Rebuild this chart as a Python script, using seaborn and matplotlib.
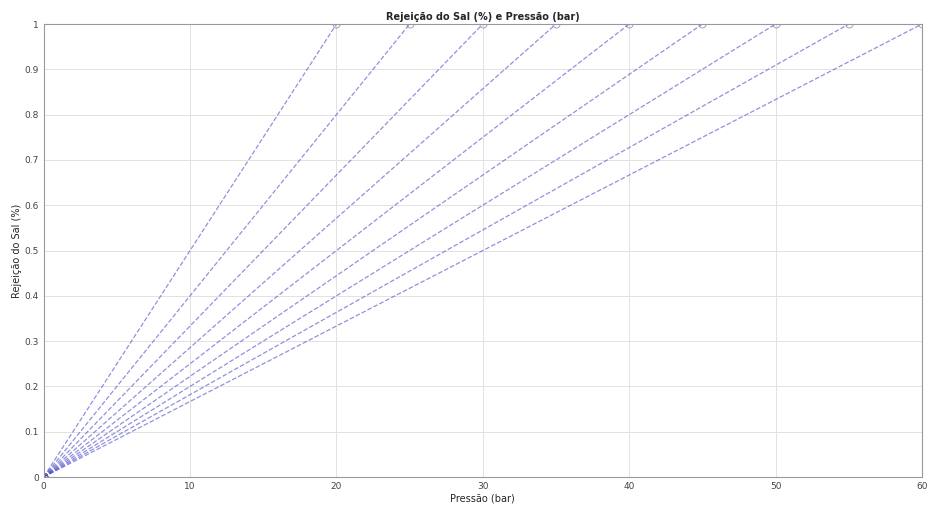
import numpy as np
import pandas as pd
import matplotlib
matplotlib.use("Agg")
import matplotlib.pyplot as plt
import seaborn as sns

# pressao final de cada curva (bar) e rejeicao (fracao)
pressoes_fim = [20, 25, 30, 35, 40, 45, 50, 55, 60]
rejeicao_ini = 0.0
rejeicao_fim = 1.0
x_ticks = [0, 10, 20, 30, 40, 50, 60]
y_ticks = [0, 0.1, 0.2, 0.3, 0.4, 0.5, 0.6, 0.7, 0.8, 0.9, 1.0]
y_labels = ["0", "0.1", "0.2", "0.3", "0.4", "0.5", "0.6", "0.7", "0.8", "0.9", "1"]

rows = []
for p in pressoes_fim:
    rows.append({"curva": p, "pressao": 0.0, "rejeicao": rejeicao_ini})
    rows.append({"curva": p, "pressao": p, "rejeicao": rejeicao_fim})
df = pd.DataFrame(rows)

sns.set_style("whitegrid")
plt.rcParams['font.family'] = ['DejaVu Sans']

fig = plt.figure(figsize=(9.29, 5.11), dpi=100)
ax = fig.add_axes([0.047, 0.0665, 0.9455, 0.8865])

for p, g in df.groupby("curva"):
    sns.lineplot(data=g, x="pressao", y="rejeicao", ax=ax, color="#4848c8",
                 linestyle="--", linewidth=0.9, alpha=0.6, marker="o",
                 markersize=5, markerfacecolor="none", markeredgecolor="#6a6aa8",
                 legend=False)

ax.set_xlim(0, 60)
ax.set_ylim(0, 1)
ax.set_xticks(x_ticks)
ax.set_yticks(y_ticks)
ax.set_yticklabels(y_labels)
ax.tick_params(direction="in", labelsize=6.5, colors="#444444", length=3)
ax.grid(True, color="#e2e2e2", linewidth=0.7)
for s in ax.spines.values():
    s.set_color("#999999")
    s.set_linewidth(0.8)
ax.set_title("Rejeição do Sal (%) e Pressão (bar)", fontsize=7, fontweight="bold", pad=3)
ax.set_xlabel("Pressão (bar)", fontsize=7, labelpad=2)
ax.set_ylabel("Rejeição do Sal (%)", fontsize=7, labelpad=2)

fig.savefig("out.png", dpi=100)
